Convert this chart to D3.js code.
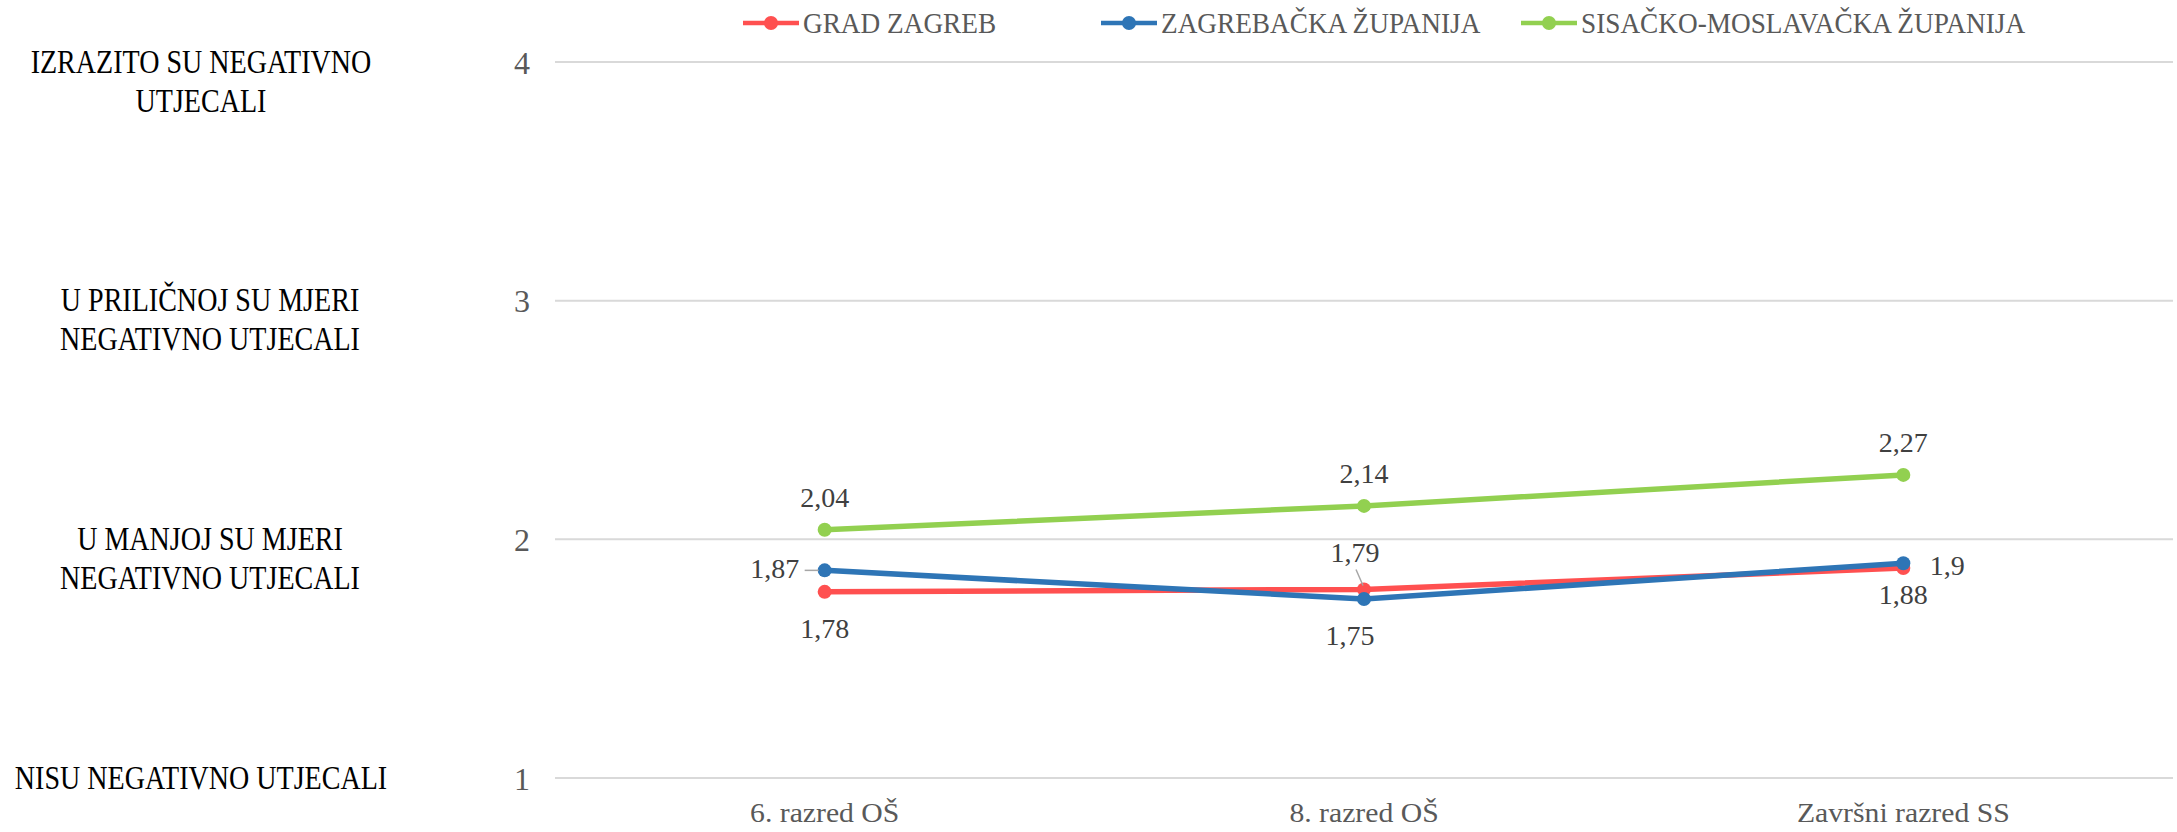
<!DOCTYPE html>
<html>
<head>
<meta charset="utf-8">
<script src="https://cdn.jsdelivr.net/npm/d3@7"></script>
<style>
body { margin: 0; background: #fff; }
text { font-family: "Liberation Serif", serif; }
</style>
</head>
<body>
<svg id="chart" width="2177" height="832"></svg>
<script>
// data
var categories = ["6. razred OŠ", "8. razred OŠ", "Završni razred SS"];
var seriesNames = ["GRAD ZAGREB", "ZAGREBAČKA ŽUPANIJA", "SISAČKO-MOSLAVAČKA ŽUPANIJA"];
var gradZagreb = [1.78, 1.79, 1.88];
var zagrebackaZupanija = [1.87, 1.75, 1.9];
var sisackoMoslavacka = [2.04, 2.14, 2.27];
var yTicks = [1, 2, 3, 4];
var yTickNames = [
  ["NISU NEGATIVNO UTJECALI"],
  ["U MANJOJ SU MJERI", "NEGATIVNO UTJECALI"],
  ["U PRILIČNOJ SU MJERI", "NEGATIVNO UTJECALI"],
  ["IZRAZITO SU NEGATIVNO", "UTJECALI"]
];

var colors = ["#FF5050", "#2E75B6", "#92D050"];
// centre of each left-hand text box
var nameX = [201, 210, 210, 201];
// where each data label sits (per series, per point)
var labelPlace = [
  [{dx: 0, dy: 36}, {dx: -9, dy: -37, leader: true}, {dx: 0, dy: 26}],
  [{dx: -50, dy: -2, leader: true}, {dx: -14, dy: 36}, {dx: 44, dy: 2}],
  [{dx: 0, dy: -33}, {dx: 0, dy: -33}, {dx: 0, dy: -33}]
];
// Liberation Serif vs the original Cambria-like face: width correction per text kind
var stretch = {names: 0.85, xlab: 1.1, dl: 1.0, legend: 0.94, ytick: 1.0};

var series = [gradZagreb, zagrebackaZupanija, sisackoMoslavacka];
var svg = d3.select("#chart");

var x = d3.scaleBand().domain(categories).range([555, 2173]);
var y = d3.scaleLinear().domain([1, 4]).range([778, 62]);
function cx(c) { return x(c) + x.bandwidth() / 2; }
function fmt(v) { return String(v).replace(".", ","); }

// gridlines
svg.append("g").selectAll("line").data(yTicks).enter().append("line")
  .attr("x1", 555).attr("x2", 2173)
  .attr("y1", function(d) { return y(d); })
  .attr("y2", function(d) { return y(d); })
  .attr("stroke", "#D9D9D9").attr("stroke-width", 2);

// y axis numbers
var yAxis = svg.append("g").attr("transform", "translate(533,0)")
  .call(d3.axisLeft(y).tickValues(yTicks).tickSize(0).tickPadding(0).tickFormat(d3.format("d")));
yAxis.select(".domain").remove();
yAxis.selectAll("text").attr("class", "ytick").attr("font-size", 32).attr("fill", "#595959")
  .attr("text-anchor", "middle").attr("x", -11).attr("dy", "0.35em")
  .attr("font-family", "Liberation Serif");

// left side category names
var names = svg.append("g").selectAll("text").data(yTicks).enter().append("text")
  .attr("class", "names")
  .attr("y", function(d) { return y(d) - 1; })
  .attr("text-anchor", "middle").attr("font-size", 33).attr("fill", "#000");
names.each(function(d, i) {
  d3.select(this).selectAll("tspan").data(yTickNames[i]).enter().append("tspan")
    .attr("x", nameX[i])
    .attr("dy", function(t, j) { return j == 0 ? "0.35em" : 39; })
    .text(function(t) { return t; });
});

// x axis labels
var xAxis = svg.append("g").attr("transform", "translate(0,813)")
  .call(d3.axisBottom(x).tickSize(0).tickPadding(0));
xAxis.select(".domain").remove();
xAxis.selectAll("text").attr("class", "xlab").attr("font-size", 27).attr("fill", "#595959")
  .attr("dy", "0.35em").attr("y", 0).attr("font-family", "Liberation Serif");

// lines and markers
var line = d3.line().x(function(d, i) { return cx(categories[i]); }).y(function(d) { return y(d); });
series.forEach(function(vals, s) {
  svg.append("path").datum(vals).attr("d", line)
    .attr("fill", "none").attr("stroke", colors[s]).attr("stroke-width", 5.5)
    .attr("stroke-linejoin", "round");
  svg.append("g").selectAll("circle").data(vals).enter().append("circle")
    .attr("cx", function(d, i) { return cx(categories[i]); })
    .attr("cy", function(d) { return y(d); })
    .attr("r", 7).attr("fill", colors[s]);
});

// data labels
series.forEach(function(vals, s) {
  vals.forEach(function(v, i) {
    var p = labelPlace[s][i];
    var px = cx(categories[i]), py = y(v);
    if (p.leader) {
      var lx = px + p.dx, ly = py + p.dy;
      if (Math.abs(p.dx) > Math.abs(p.dy)) {
        svg.append("line").attr("x1", lx + 30).attr("y1", py).attr("x2", px - 6).attr("y2", py)
          .attr("stroke", "#A6A6A6").attr("stroke-width", 1.5);
      } else {
        svg.append("line").attr("x1", lx + 1).attr("y1", ly + 17).attr("x2", px - 1).attr("y2", py - 4)
          .attr("stroke", "#A6A6A6").attr("stroke-width", 1.5);
      }
    }
    svg.append("text").attr("class", "dl")
      .attr("x", px + p.dx).attr("y", py + p.dy)
      .attr("dy", "0.35em").attr("text-anchor", "middle")
      .attr("font-size", 28).attr("fill", "#404040")
      .text(fmt(v));
  });
});

// legend
var legendX = [743, 1101, 1521];
var lg = svg.append("g").selectAll("g").data(seriesNames).enter().append("g")
  .attr("transform", function(d, i) { return "translate(" + legendX[i] + ",23)"; });
lg.append("line").attr("x1", 0).attr("x2", 56).attr("y1", 0).attr("y2", 0)
  .attr("stroke", function(d, i) { return colors[i]; }).attr("stroke-width", 4.5);
lg.append("circle").attr("cx", 28).attr("cy", 0).attr("r", 7)
  .attr("fill", function(d, i) { return colors[i]; });
lg.append("text").attr("class", "legend").attr("x", 60).attr("dy", "0.35em").attr("font-size", 29)
  .attr("fill", "#595959").text(function(d) { return d; });

// adjust text run widths to the original face
svg.selectAll("text").each(function() {
  var el = d3.select(this);
  var k = stretch[el.attr("class")] || 1;
  var spans = el.selectAll("tspan");
  var runs = spans.size() ? spans : el;
  runs.each(function() {
    var w = this.getComputedTextLength();
    d3.select(this).attr("textLength", w * k).attr("lengthAdjust", "spacingAndGlyphs");
  });
});
</script>
</body>
</html>
